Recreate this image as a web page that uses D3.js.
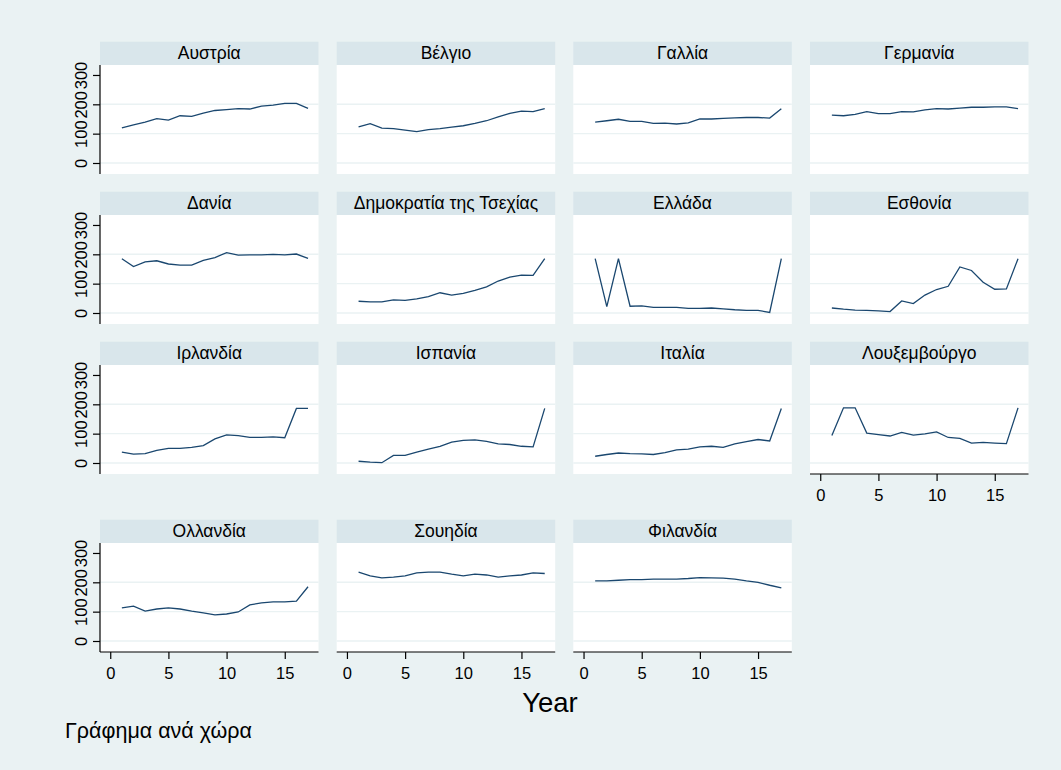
<!DOCTYPE html>
<html>
<head>
<meta charset="utf-8">
<script src="https://cdn.jsdelivr.net/npm/d3@7"></script>
<style>
    body { margin: 0; background: #ffffff; }
    text { font-family: "Liberation Sans", Arial, sans-serif; fill: #000; }
</style>
</head>
<body>
<div id="chart"></div>
<script>
// years 1..17
const years = d3.range(1, 18);

const countries = ["Αυστρία", "Βέλγιο", "Γαλλία", "Γερμανία",
    "Δανία", "Δημοκρατία της Τσεχίας", "Ελλάδα", "Εσθονία",
    "Ιρλανδία", "Ισπανία", "Ιταλία", "Λουξεμβούργο",
    "Ολλανδία", "Σουηδία", "Φιλανδία"];

const austria    = [120, 130, 139, 151, 146, 161, 159, 170, 179, 182, 185, 184, 194, 197, 203, 203, 186];
const belgium    = [123, 134, 119, 117, 112, 107, 114, 117, 122, 127, 135, 144, 157, 169, 177, 175, 185];
const france     = [139, 144, 149, 142, 142, 135, 136, 133, 137, 150, 150, 152, 154, 155, 155, 153, 185];
const germany    = [163, 161, 166, 175, 168, 168, 175, 174, 181, 185, 184, 187, 190, 190, 191, 191, 185];
const denmark    = [185, 158, 174, 178, 167, 163, 163, 179, 189, 206, 197, 198, 198, 200, 198, 201, 186];
const czechia    = [40, 38, 38, 45, 43, 48, 56, 69, 61, 67, 77, 89, 109, 122, 129, 128, 185];
const greece     = [185, 22, 185, 23, 24, 19, 19, 19, 16, 16, 17, 14, 11, 9, 9, 2, 185];
const estonia    = [17, 13, 10, 9, 7, 5, 41, 32, 61, 80, 91, 157, 145, 105, 81, 82, 185];
const ireland    = [37, 30, 32, 43, 50, 50, 53, 59, 82, 96, 93, 87, 87, 89, 86, 186, 186];
const spain      = [6, 3, 1, 26, 26, 37, 47, 57, 71, 77, 79, 74, 65, 63, 57, 55, 186];
const italy      = [23, 29, 34, 32, 31, 29, 35, 45, 47, 55, 57, 53, 65, 73, 80, 75, 186];
const luxembourg = [94, 188, 188, 102, 97, 92, 104, 95, 99, 106, 87, 84, 68, 70, 68, 66, 188];
const netherlands = [113, 119, 102, 109, 113, 109, 102, 96, 89, 92, 99, 123, 130, 133, 133, 136, 185];
const sweden     = [235, 222, 215, 218, 222, 232, 235, 235, 228, 222, 228, 225, 218, 222, 225, 232, 230];
const finland    = [205, 205, 207, 209, 209, 211, 211, 211, 213, 216, 215, 214, 211, 205, 200, 190, 181];

const seriesValues = [austria, belgium, france, germany, denmark, czechia, greece, estonia,
    ireland, spain, italy, luxembourg, netherlands, sweden, finland];

const yTicks = [0, 100, 200, 300];
const yGrid = [0, 100, 200];
const xTicks = [0, 5, 10, 15];

class ByPanels {
    constructor(_config) {
        this.config = {
            parentElement: _config.parentElement,
            width: _config.width || 1061,
            height: _config.height || 770
        };
        this.initVis();
    }

    initVis() {
        const vis = this;

        vis.svg = d3.select(vis.config.parentElement)
            .append("svg")
            .attr("width", vis.config.width)
            .attr("height", vis.config.height);

        // graph region
        vis.svg.append("rect")
            .attr("width", vis.config.width)
            .attr("height", vis.config.height)
            .attr("fill", "#eaf2f3");

        vis.panelW = 218.5;
        vis.stripH = 23.3;
        vis.plotH = 109;
        vis.colX = [100, 336.7, 573.3, 810];
        vis.rowY = [41.7, 191.7, 341.7, 519.7];

        vis.xScale = d3.scaleLinear()
            .domain([-0.88, 17.9])
            .range([0, vis.panelW]);

        vis.yScale = d3.scaleLinear()
            .domain([-37.5, 334])
            .range([vis.plotH, 0]);

        vis.line = d3.line()
            .x((d, i) => vis.xScale(years[i]))
            .y(d => vis.yScale(d));

        // x title
        vis.svg.append("text")
            .attr("x", 550)
            .attr("y", 712)
            .attr("text-anchor", "middle")
            .style("font-size", "27.5px")
            .text("Year");

        // note
        vis.svg.append("text")
            .attr("x", 65)
            .attr("y", 738)
            .style("font-size", "21.5px")
            .text("Γράφημα ανά χώρα");

        vis.updateVis();
    }

    updateVis() {
        const vis = this;
        const n = countries.length;

        countries.forEach((name, k) => {
            const col = k % 4;
            const row = Math.floor(k / 4);
            const g = vis.svg.append("g")
                .attr("transform", `translate(${vis.colX[col]},${vis.rowY[row]})`);

            // strip
            g.append("rect")
                .attr("width", vis.panelW)
                .attr("height", vis.stripH)
                .attr("fill", "#d9e6eb");

            g.append("text")
                .attr("x", vis.panelW / 2)
                .attr("y", 17.6)
                .attr("text-anchor", "middle")
                .style("font-size", "17.5px")
                .text(name);

            const plot = g.append("g")
                .attr("transform", `translate(0,${vis.stripH})`);

            plot.append("rect")
                .attr("width", vis.panelW)
                .attr("height", vis.plotH)
                .attr("fill", "#ffffff");

            plot.selectAll(".grid")
                .data(yGrid)
                .enter()
                .append("line")
                .attr("class", "grid")
                .attr("x1", 0)
                .attr("x2", vis.panelW)
                .attr("y1", d => vis.yScale(d))
                .attr("y2", d => vis.yScale(d))
                .attr("stroke", "#eaf2f3")
                .attr("stroke-width", 1.4);

            plot.append("path")
                .attr("fill", "none")
                .attr("stroke", "#1a476f")
                .attr("stroke-width", 1.3)
                .attr("d", vis.line(seriesValues[k]));

            // y axis on first column
            if (col === 0) {
                const yAxisG = plot.append("g")
                    .call(d3.axisLeft(vis.yScale).tickValues(yTicks).tickSize(7).tickPadding(5).tickFormat(d3.format("d")));
                yAxisG.select(".domain").attr("d", `M0,0V${vis.plotH}`).attr("stroke", "#000").attr("stroke-width", 1.2);
                yAxisG.selectAll(".tick line").attr("stroke", "#000").attr("stroke-width", 1.2);
                yAxisG.selectAll(".tick text")
                    .attr("transform", "rotate(-90)")
                    .attr("x", 0)
                    .attr("y", -13)
                    .attr("dy", 0)
                    .attr("text-anchor", "middle")
                    .style("font-family", "Liberation Sans, Arial, sans-serif")
                    .style("font-size", "16.5px");
            }

            // x axis where no panel sits below
            if (k + 4 >= n) {
                const xAxisG = plot.append("g")
                    .attr("transform", `translate(0,${vis.plotH})`)
                    .call(d3.axisBottom(vis.xScale).tickValues(xTicks).tickSize(7).tickPadding(8));
                xAxisG.select(".domain").attr("d", `M0,0H${vis.panelW}`).attr("stroke", "#000").attr("stroke-width", 1.2);
                xAxisG.selectAll(".tick line").attr("stroke", "#000").attr("stroke-width", 1.2);
                xAxisG.selectAll(".tick text")
                    .style("font-family", "Liberation Sans, Arial, sans-serif")
                    .style("font-size", "16.5px");
            }
        });
    }
}

new ByPanels({ parentElement: "#chart" });
</script>
</body>
</html>
